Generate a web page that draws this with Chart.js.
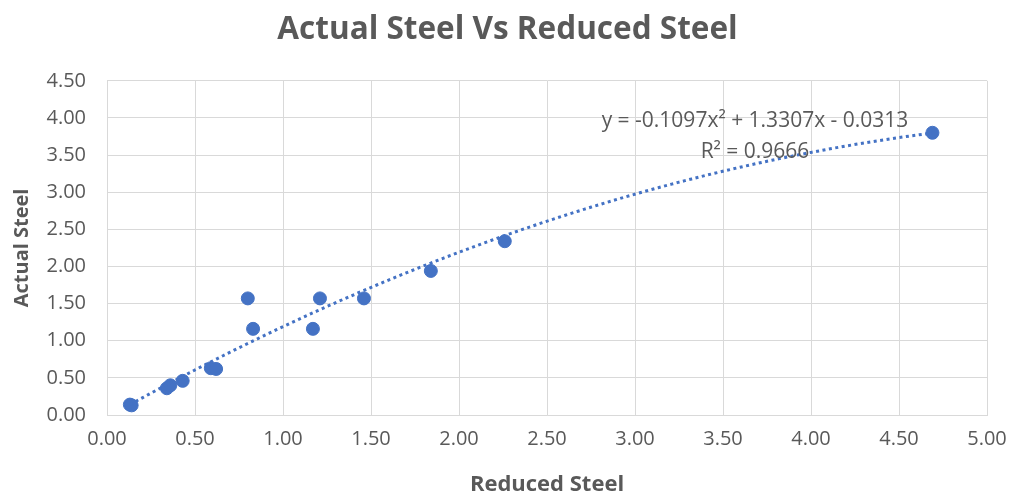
<!DOCTYPE html>
<html>
<head>
<meta charset="utf-8">
<script src="https://cdn.jsdelivr.net/npm/chart.js@4"></script>
<style>
  html, body { margin: 0; padding: 0; background: #ffffff; }
  #wrap { width: 1015px; height: 498px; }
</style>
</head>
<body>
<div id="wrap"><canvas id="chart" width="1015" height="498"></canvas></div>
<script>
// Measured steel quantities
const reducedSteel = [0.13, 0.14, 0.34, 0.36, 0.43, 0.59, 0.62, 0.80, 0.83, 1.17, 1.21, 1.46, 1.84, 2.26, 4.69];
const actualSteel  = [0.14, 0.13, 0.36, 0.40, 0.46, 0.63, 0.62, 1.57, 1.16, 1.16, 1.57, 1.57, 1.94, 2.34, 3.80];

// Polynomial (order 2) trendline coefficients: a*x^2 + b*x + c
const trendCoeffs = [-0.1097, 1.3307, -0.0313];
const trendR2 = 0.9666;

const xTicks = [0, 0.5, 1, 1.5, 2, 2.5, 3, 3.5, 4, 4.5, 5];
const yTicks = [0, 0.5, 1, 1.5, 2, 2.5, 3, 3.5, 4, 4.5];

const GREY = '#595959';
const GRID = '#d9d9d9';
const BLUE = '#4472C4';
const FONT = "'Open Sans', sans-serif";

const points = reducedSteel.map((x, i) => ({ x: x, y: actualSteel[i] }));

// Trendline sampled over the range of the data
const xMin = Math.min(...reducedSteel), xMax = Math.max(...reducedSteel);
const trend = [];
const steps = 120;
for (let i = 0; i <= steps; i++) {
  const x = xMin + (xMax - xMin) * i / steps;
  trend.push({ x: x, y: trendCoeffs[0] * x * x + trendCoeffs[1] * x + trendCoeffs[2] });
}

function fmt(v) { return Math.abs(v).toFixed(4); }
const eqText = 'y = ' + (trendCoeffs[0] < 0 ? '-' : '') + fmt(trendCoeffs[0]) + 'x\u00B2 ' +
  (trendCoeffs[1] < 0 ? '- ' : '+ ') + fmt(trendCoeffs[1]) + 'x ' +
  (trendCoeffs[2] < 0 ? '- ' : '+ ') + fmt(trendCoeffs[2]);
const r2Text = 'R\u00B2 = ' + trendR2.toFixed(4);

// Trendline equation label
const equationLabel = {
  id: 'equationLabel',
  afterDatasetsDraw(chart) {
    const { ctx, chartArea } = chart;
    ctx.save();
    ctx.fillStyle = GREY;
    ctx.font = "21px " + FONT;
    ctx.textAlign = 'center';
    ctx.textBaseline = 'middle';
    const cx = chartArea.right - 232;
    ctx.fillText(eqText, cx, chartArea.top + 40);
    ctx.fillText(r2Text, cx, chartArea.top + 71);
    ctx.restore();
  }
};

new Chart(document.getElementById('chart'), {
  type: 'scatter',
  data: {
    datasets: [
      {
        label: 'Trendline',
        type: 'line',
        data: trend,
        borderColor: BLUE,
        borderWidth: 3,
        borderDash: [3, 3.5],
        borderCapStyle: 'butt',
        pointRadius: 0,
        fill: false,
        tension: 0,
        order: 0
      },
      {
        label: 'Actual Steel',
        data: points,
        backgroundColor: BLUE,
        borderColor: BLUE,
        pointRadius: 6.5,
        pointHoverRadius: 6.5,
        order: 1
      }
    ]
  },
  options: {
    responsive: false,
    animation: false,
    events: [],
    layout: { padding: { left: 0, right: 0, top: 0, bottom: 0 } },
    plugins: {
      legend: { display: false },
      tooltip: { enabled: false },
      title: {
        display: true,
        text: 'Actual Steel Vs Reduced Steel',
        color: GREY,
        font: { family: FONT, size: 31.5, weight: 'bold' },
        padding: { top: 11, bottom: 32 }
      }
    },
    scales: {
      x: {
        type: 'linear',
        min: 0, max: 5,
        afterBuildTicks(scale) { scale.ticks = xTicks.map(v => ({ value: v })); },
        afterFit(scale) { scale.height = 83; scale.paddingRight = 28; },
        grid: { color: GRID, lineWidth: 1, drawTicks: false },
        border: { color: GRID },
        ticks: {
          color: GREY,
          padding: 12,
          font: { family: FONT, size: 20 },
          callback: v => Number(v).toFixed(2)
        },
        title: {
          display: true,
          text: 'Reduced Steel',
          color: GREY,
          font: { family: FONT, size: 22, weight: 'bold' },
          padding: { top: 12, bottom: 0 }
        }
      },
      y: {
        type: 'linear',
        min: 0, max: 4.5,
        afterBuildTicks(scale) { scale.ticks = yTicks.map(v => ({ value: v })); },
        afterFit(scale) { scale.width = 107; },
        grid: { color: GRID, lineWidth: 1, drawTicks: false },
        border: { color: GRID },
        ticks: {
          color: GREY,
          padding: 21,
          font: { family: FONT, size: 20 },
          callback: v => Number(v).toFixed(2)
        },
        title: {
          display: true,
          text: 'Actual Steel',
          color: GREY,
          font: { family: FONT, size: 20, weight: 'bold' },
          padding: { top: 10, bottom: 0 }
        }
      }
    }
  },
  plugins: [equationLabel]
});
</script>
</body>
</html>
